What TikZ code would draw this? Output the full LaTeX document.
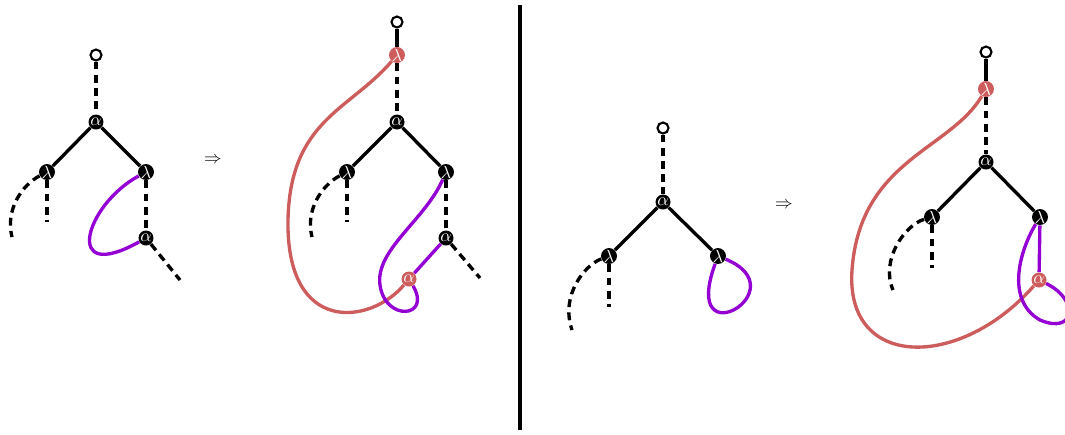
\documentclass[tikz,border=0pt]{standalone}
\usepackage{amsmath,amssymb}
\definecolor{redwire}{RGB}{205,92,92}
\definecolor{purplewire}{RGB}{148,0,211}

\begin{document}
\begin{tikzpicture}[x=0.02cm,y=-0.02cm,
  lam/.style={circle, fill=black, inner sep=0pt, minimum size=0.3cm, text=white, font=\normalsize},
  redlam/.style={lam, fill=redwire},
  opennode/.style={circle, draw, fill=white, line width=1.2pt, inner sep=0pt, minimum size=0.22cm},
  wire/.style={line width=1.9pt},
  dwire/.style={wire, dash pattern=on 4.5pt off 3pt},
  pwire/.style={wire, purplewire},
  rwire/.style={wire, redwire}]
\useasboundingbox (0,0) rectangle (1065,434);
% panel 1
\node[opennode] (o1) at (96,55) {};
\node[lam] (a1) at (96,122) {$\alpha$};
\node[lam] (l1) at (47,172) {$\lambda$};
\node[lam] (r1) at (146,172) {$\lambda$};
\node[lam] (b1) at (146,238) {$\alpha$};
\coordinate (l1d) at (47,222);
\coordinate (l1c) at (12,237);
\coordinate (b1d) at (180,280);
\draw[dwire] (o1) -- (a1);
\draw[wire] (a1) -- (l1);
\draw[wire] (a1) -- (r1);
\draw[dwire] (l1) -- (l1d);
\draw[dwire] (l1) .. controls (22,185) and (5,210) .. (l1c);
\draw[dwire] (r1) -- (b1);
\draw[dwire] (b1) -- (b1d);
\draw[pwire] (r1) .. controls (85,205) and (62,285) .. (b1);
\node (arr1) at (213,160) {$\Rightarrow$};
% panel 2
\node[opennode] (o2) at (397,22) {};
\node[redlam] (t2) at (397,55) {$\lambda$};
\node[lam] (a2) at (397,122) {$\alpha$};
\node[lam] (l2) at (347,172) {$\lambda$};
\node[lam] (r2) at (446,172) {$\lambda$};
\node[lam] (b2) at (446,238) {$\alpha$};
\node[redlam] (c2) at (409,279) {$\alpha$};
\coordinate (l2d) at (347,222);
\coordinate (l2c) at (312,237);
\coordinate (b2d) at (480,278);
\draw[wire] (o2) -- (t2);
\draw[dwire] (t2) -- (a2);
\draw[wire] (a2) -- (l2);
\draw[wire] (a2) -- (r2);
\draw[dwire] (l2) -- (l2d);
\draw[dwire] (l2) .. controls (322,185) and (305,210) .. (l2c);
\draw[dwire] (r2) -- (b2);
\draw[dwire] (b2) -- (b2d);
\draw[pwire] (b2) -- (c2);
\draw[rwire] (t2) .. controls (350,110) and (290,120) .. (288,220)
  .. controls (286,335) and (370,325) .. (c2);
\draw[pwire] (r2) .. controls (425,220) and (375,250) .. (380,285)
  .. controls (385,322) and (432,318) .. (c2);
% separator
\coordinate (sepT) at (520,5);
\coordinate (sepB) at (520,430);
\draw[line width=2pt] (sepT) -- (sepB);
% panel 3
\node[opennode] (o3) at (663,128) {};
\node[lam] (a3) at (663,202) {$\alpha$};
\node[lam] (l3) at (609,256) {$\lambda$};
\node[lam] (r3) at (718,256) {$\lambda$};
\coordinate (l3d) at (609,307);
\coordinate (l3c) at (572,330);
\draw[dwire] (o3) -- (a3);
\draw[wire] (a3) -- (l3);
\draw[wire] (a3) -- (r3);
\draw[dwire] (l3) -- (l3d);
\draw[dwire] (l3) .. controls (585,265) and (560,295) .. (l3c);
\draw[pwire] (r3) .. controls (800,290) and (680,360) .. (r3);
\node (arr2) at (784,205) {$\Rightarrow$};
% panel 4
\node[opennode] (o4) at (986,52) {};
\node[redlam] (t4) at (986,89) {$\lambda$};
\node[lam] (a4) at (986,162) {$\alpha$};
\node[lam] (l4) at (932,217) {$\lambda$};
\node[lam] (r4) at (1040,217) {$\lambda$};
\node[redlam] (c4) at (1039,280) {$\alpha$};
\coordinate (l4d) at (932,268);
\coordinate (l4c) at (893,290);
\draw[wire] (o4) -- (t4);
\draw[dwire] (t4) -- (a4);
\draw[wire] (a4) -- (l4);
\draw[wire] (a4) -- (r4);
\draw[dwire] (l4) -- (l4d);
\draw[dwire] (l4) .. controls (905,225) and (880,260) .. (l4c);
\draw[pwire] (r4) -- (c4);
\draw[rwire] (t4) .. controls (950,150) and (860,160) .. (852,270)
  .. controls (845,370) and (960,370) .. (c4);
\draw[pwire] (r4) .. controls (1020,250) and (1005,300) .. (1040,320)
  .. controls (1075,335) and (1080,300) .. (c4);
\end{tikzpicture}
\end{document}
